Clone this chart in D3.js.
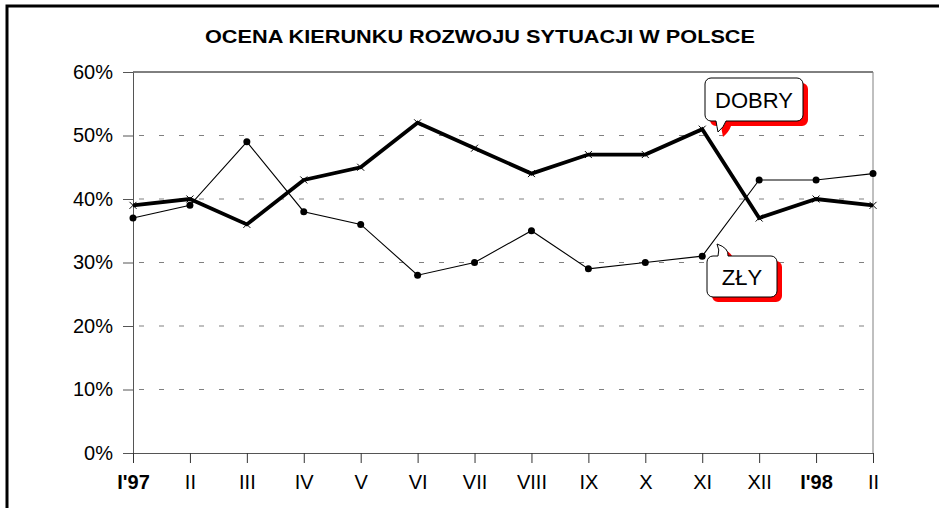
<!DOCTYPE html>
<html>
<head>
<meta charset="utf-8">
<script src="https://cdn.jsdelivr.net/npm/d3@7"></script>
<style>
  body { margin: 0; background: #fff; }
  svg { display: block; font-family: "Liberation Sans", Arial, sans-serif; }
</style>
</head>
<body>
<div id="chart"></div>
<script>
// months on the x axis
const months = ["I'97", "II", "III", "IV", "V", "VI", "VII", "VIII", "IX", "X", "XI", "XII", "I'98", "II"]
const boldMonths = [0, 12]
// share of answers, percent
const dobry = [39, 40, 36, 43, 45, 52, 48, 44, 47, 47, 51, 37, 40, 39]
const zly = [37, 39, 49, 38, 36, 28, 30, 35, 29, 30, 31, 43, 43, 44]
const yTicks = [0, 10, 20, 30, 40, 50, 60]
const title = "OCENA KIERUNKU ROZWOJU SYTUACJI W POLSCE"

const width = 939, height = 508
const plotLeft = 133, plotRight = 873, plotTop = 72, plotBottom = 453

const svg = d3.select("#chart").append("svg")
  .attr("width", width)
  .attr("height", height)

// outer frame (only top and left visible)
svg.append("path")
  .attr("d", "M7,508 V6 H939")
  .attr("fill", "none")
  .attr("stroke", "#000")
  .attr("stroke-width", 3)

svg.append("text")
  .attr("x", 205).attr("y", 43)
  .attr("font-size", 19).attr("font-weight", "bold")
  .attr("textLength", 550).attr("lengthAdjust", "spacingAndGlyphs")
  .text(title)

const x = d3.scaleLinear().domain([0, months.length - 1]).range([plotLeft, plotRight])
const y = d3.scaleLinear().domain([0, 60]).range([plotBottom, plotTop])

// grid
svg.append("g").selectAll("line")
  .data(yTicks.filter(d => d > 0 && d < 60))
  .enter().append("line")
  .attr("x1", plotLeft + 6).attr("x2", plotRight)
  .attr("y1", d => y(d)).attr("y2", d => y(d))
  .attr("stroke", "#808080")
  .attr("stroke-width", 1.2)
  .attr("stroke-dasharray", "5,15")

svg.append("line")
  .attr("x1", plotLeft).attr("x2", plotRight)
  .attr("y1", y(60)).attr("y2", y(60))
  .attr("stroke", "#000")
svg.append("line")
  .attr("x1", plotRight).attr("x2", plotRight)
  .attr("y1", y(60)).attr("y2", y(0))
  .attr("stroke", "#808080")

// y axis
const yAxis = svg.append("g")
  .attr("transform", `translate(${plotLeft},0)`)
  .call(d3.axisLeft(y).tickValues(yTicks).tickFormat(d => d + "%").tickSize(10).tickSizeOuter(0))
yAxis.select(".domain").attr("stroke", "#555")
yAxis.selectAll(".tick line").attr("stroke", "#555")
yAxis.selectAll("text").attr("font-size", 20).attr("fill", "#000")
  .attr("x", -20).attr("font-family", "Liberation Sans, Arial, sans-serif")

// x axis
const xAxis = svg.append("g")
  .attr("transform", `translate(0,${plotBottom})`)
  .call(d3.axisBottom(x).tickValues(d3.range(months.length))
    .tickFormat(i => months[i]).tickSize(10).tickSizeOuter(0))
xAxis.select(".domain").attr("stroke", "#555")
xAxis.selectAll(".tick line").attr("stroke", "#333")
xAxis.selectAll("text")
  .attr("font-size", 20).attr("fill", "#000").attr("y", 22)
  .attr("font-family", "Liberation Sans, Arial, sans-serif")
  .attr("font-weight", i => boldMonths.includes(i) ? "bold" : "normal")

const line = d3.line().x((d, i) => x(i)).y(d => y(d))

// ZŁY series
svg.append("path").datum(zly)
  .attr("d", line).attr("fill", "none")
  .attr("stroke", "#000").attr("stroke-width", 1.1)
svg.append("g").selectAll("circle")
  .data(zly).enter().append("circle")
  .attr("cx", (d, i) => x(i)).attr("cy", d => y(d))
  .attr("r", 3.5).attr("fill", "#000")

// DOBRY series
svg.append("path").datum(dobry)
  .attr("d", line).attr("fill", "none")
  .attr("stroke", "#000").attr("stroke-width", 3.8)
svg.append("g").selectAll("path.x")
  .data(dobry).enter().append("path")
  .attr("d", (d, i) => {
    const cx = x(i), cy = y(d), s = 3.5
    return `M${cx - s},${cy - s}L${cx + s},${cy + s}M${cx - s},${cy + s}L${cx + s},${cy - s}`
  })
  .attr("stroke", "#000").attr("stroke-width", 1)

// callout boxes
function callout(bx, by, w, h, tail, label) {
  const r = 6
  const p = d3.path()
  p.moveTo(bx + r, by)
  if (tail.side === "top") {
    p.lineTo(tail.x0, by)
    p.quadraticCurveTo(tail.x0 + 2, by - 6, tail.ax, tail.ay)
    p.quadraticCurveTo(tail.x1 + 1, by - 8, tail.x1, by)
  }
  p.lineTo(bx + w - r, by)
  p.arcTo(bx + w, by, bx + w, by + r, r)
  p.lineTo(bx + w, by + h - r)
  p.arcTo(bx + w, by + h, bx + w - r, by + h, r)
  if (tail.side === "bottom") {
    p.lineTo(tail.x1, by + h)
    p.quadraticCurveTo(tail.x1 - 2, by + h + 6, tail.ax, tail.ay)
    p.quadraticCurveTo(tail.x0 + 1, by + h + 6, tail.x0, by + h)
  }
  p.lineTo(bx + r, by + h)
  p.arcTo(bx, by + h, bx, by + h - r, r)
  p.lineTo(bx, by + r)
  p.arcTo(bx, by, bx + r, by, r)
  p.closePath()
  const g = svg.append("g")
  g.append("path").attr("d", p.toString())
    .attr("transform", "translate(5,5)").attr("fill", "#ff0000")
  g.append("path").attr("d", p.toString())
    .attr("fill", "#fff").attr("stroke", "#000").attr("stroke-width", 1)
  g.append("text")
    .attr("x", bx + w / 2).attr("y", by + h / 2 + 8)
    .attr("text-anchor", "middle").attr("font-size", 22)
    .text(label)
}

callout(705, 78, 98, 43, { side: "bottom", x0: 716, x1: 726, ax: 718, ay: 132 }, "DOBRY")
callout(707, 256, 70, 41, { side: "top", x0: 718, x1: 728, ax: 717, ay: 244 }, "ZŁY")
</script>
</body>
</html>
